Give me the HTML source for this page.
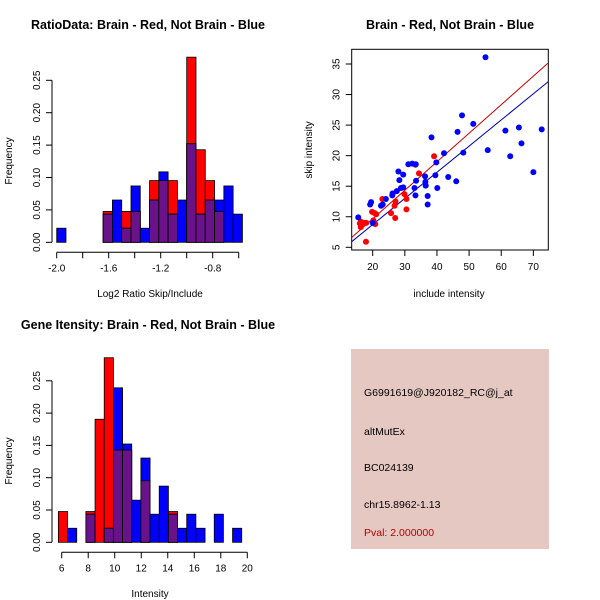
<!DOCTYPE html>
<html><head><meta charset="utf-8"><style>
body{margin:0;background:#fff}
svg{display:block;font-family:"Liberation Sans",sans-serif}
</style></head><body>
<svg id="s" width="600" height="600" viewBox="0 0 600 600">
<rect width="600" height="600" fill="#fff"/>
<text x="148" y="29" font-size="12.5" font-weight="bold" text-anchor="middle">RatioData: Brain - Red, Not Brain - Blue</text>
<text x="450" y="29" font-size="12.5" font-weight="bold" text-anchor="middle">Brain - Red, Not Brain - Blue</text>
<text x="148" y="329" font-size="12.5" font-weight="bold" text-anchor="middle">Gene Itensity: Brain - Red, Not Brain - Blue</text>
<text x="150" y="297" font-size="10" text-anchor="middle">Log2 Ratio Skip/Include</text>
<text x="150" y="597" font-size="10" text-anchor="middle">Intensity</text>
<text x="449" y="297" font-size="10" text-anchor="middle">include intensity</text>
<text transform="translate(12,161) rotate(-90)" font-size="10" text-anchor="middle">Frequency</text>
<text transform="translate(12,461) rotate(-90)" font-size="10" text-anchor="middle">Frequency</text>
<text transform="translate(312,150) rotate(-90)" font-size="10" text-anchor="middle">skip intensity</text>
<g>
<rect x="351" y="349" width="198" height="200" fill="#e6c8c3"/>
<text x="364" y="396" font-size="10.5">G6991619@J920182_RC@j_at</text>
<text x="364" y="435" font-size="10.5">altMutEx</text>
<text x="364" y="471" font-size="10.5">BC024139</text>
<text x="364" y="508" font-size="10.5">chr15.8962-1.13</text>
<text x="364" y="536" font-size="10.5" fill="#b00000">Pval: 2.000000</text>
</g>
</svg>
<script>
// Ratio histogram (counts per bin; blue n=46, red n=21)
const ratioRed=[0,0,0,0,0,1,0,1,1,0,2,2,2,0,6,3,2,1,0,0];
const ratioBlue=[1,0,0,0,0,2,3,1,4,1,3,5,2,3,7,2,3,3,4,2];
const ratioTicksX=[-2.0,-1.8,-1.6,-1.4,-1.2,-1.0,-0.8,-0.6];
const ratioLabelsX=["-2.0","","-1.6","","-1.2","","-0.8",""];
const freqTicks=[0,0.05,0.1,0.15,0.2,0.25];
const freqLabels=["0.00","0.05","0.10","0.15","0.20","0.25"];
// Gene intensity histogram
const geneRed=[1,0,0,1,4,6,3,3,0,2,0,0,1,0,0,0,0,0,0,0];
const geneBlue=[0,1,0,2,0,1,11,7,3,6,2,4,2,1,2,1,0,2,0,1];
const geneTicksX=[6,8,10,12,14,16,18,20];
// Scatter
const redX=[16,16.3,16.3,17.3,18,17.9,19.8,20.2,20.6,21.1,20.8,23,25.7,26.2,26.8,27,27.1,29.9,30.5,30.5,33.3,34.4,39.1];
const redY=[8.9,9.2,8.3,9.0,9.0,5.9,10.8,9.4,10.6,10.4,8.8,12.9,10.6,13.8,11.8,9.8,12.5,13.7,12.9,11.2,18.5,17.1,19.9];
const blueX=[15.5,19.2,19.5,20,22.6,23.1,24.1,26.1,26.2,27.5,28,28.3,28.8,29.5,29.5,31.1,32.3,33,33.3,33.4,33.5,36.3,36.4,36.5,37.1,37.1,38.3,39.5,39.8,40.1,42.2,43.5,46,46.4,47.8,48.2,51.3,55.1,55.8,61.3,62.8,65.5,66.3,70,72.6];
const blueY=[9.9,12.0,12.4,9.0,11.8,12.0,12.9,13.5,13.8,14.2,17.4,16.0,14.7,14.8,16.9,18.6,18.7,14.7,13.5,18.6,15.9,16.6,15.7,15.1,13.4,12.0,23.0,16.8,18.9,14.7,20.4,16.5,15.8,23.9,26.6,20.5,25.2,36.1,20.9,24.1,19.9,24.6,22,17.3,24.3];
const redFit=[0.32,0.467];
const blueFit=[0.16,0.428];
const scatTicksX=[20,30,40,50,60,70];
const scatTicksY=[5,10,15,20,25,30,35];

const NS="http://www.w3.org/2000/svg";
const svg=document.getElementById('s');
function mk(t,a,p){const e=document.createElementNS(NS,t);for(const k in a)e.setAttribute(k,a[k]);(p||svg).appendChild(e);return e;}

function hist(red,blue,nr,nb,x0,bw,xs,ys,prefix,xt,xl){
  const g=mk('g',{});
  
  
  for(let i=0;i<red.length;i++){
    const xa=xs(x0+i*bw),xb=xs(x0+(i+1)*bw);
    const fr=red[i]/nr,fb=blue[i]/nb;
    const parts=[[fr,'#ff0000','red'],[fb,'#0000ff','blue'],[Math.min(fr,fb),'#6a128a','overlap']];
    for(const [f,c,n] of parts){
      if(f<=0)continue;
      const r=mk('rect',{x:xa,y:ys(f),width:xb-xa,height:ys(0)-ys(f),fill:c,stroke:'#000','stroke-width':0.8},g);
      
      
    }
  }
  const ax=mk('g',{stroke:'#000','stroke-width':1,fill:'none'},g);
  mk('line',{x1:xs(xt[0]),x2:xs(xt[xt.length-1]),y1:ys(0)+10,y2:ys(0)+10},ax);
  xt.forEach((t,i)=>{
    mk('line',{x1:xs(t),x2:xs(t),y1:ys(0)+10,y2:ys(0)+16},ax);
    const s=xl?xl[i]:String(t);
    if(s){const tx=mk('text',{x:xs(t),y:ys(0)+29,'font-size':10,'text-anchor':'middle',fill:'#000',stroke:'none'},g);tx.textContent=s;
    
    }
  });
  const lx=52;
  mk('line',{x1:lx,x2:lx,y1:ys(0),y2:ys(0.25)},ax);
  freqTicks.forEach((t,i)=>{
    mk('line',{x1:lx-6,x2:lx,y1:ys(t),y2:ys(t)},ax);
    const tx=mk('text',{transform:`translate(${lx-12},${ys(t)}) rotate(-90)`,'font-size':10,'text-anchor':'middle',fill:'#000',stroke:'none'},g);
    tx.textContent=freqLabels[i];
    
    
  });
}
hist(ratioRed,ratioBlue,21,46,-2,1/14,v=>56.7+130*(v+2),v=>242.3-648*v,'ratio',ratioTicksX,ratioLabelsX);
hist(geneRed,geneBlue,21,46,5.75,0.6915,v=>61.7+13.257*(v-6),v=>542.3-646*v,'gene',geneTicksX,null);

// scatter
const sx=v=>372.7+3.213*(v-20), sy=v=>247.3-6.11*(v-5);
const sg=mk('g',{});


const box=mk('rect',{x:351.7,y:49.3,width:196.6,height:200.7,fill:'none',stroke:'#000'},sg);


scatTicksX.forEach(t=>{
  mk('line',{x1:sx(t),x2:sx(t),y1:250,y2:256,stroke:'#000'},sg);
  const tx=mk('text',{x:sx(t),y:270,'font-size':10,'text-anchor':'middle'},sg);tx.textContent=t;
  
  
});
scatTicksY.forEach(t=>{
  mk('line',{x1:345.7,x2:351.7,y1:sy(t),y2:sy(t),stroke:'#000'},sg);
  const tx=mk('text',{transform:`translate(${339.5},${sy(t)}) rotate(-90)`,'font-size':10,'text-anchor':'middle'},sg);tx.textContent=t;
  
  
});
const clip=mk('clipPath',{id:'cp'});mk('rect',{x:351.7,y:49.3,width:196.6,height:200.7},clip);
const xa=13.45,xb=74.6;
[[redFit,'#cc0000','red'],[blueFit,'#0000aa','blue']].forEach(([f,c,n])=>{
  const l=mk('line',{x1:sx(xa),y1:sy(f[0]+f[1]*xa),x2:sx(xb),y2:sy(f[0]+f[1]*xb),stroke:c,'stroke-width':1,'clip-path':'url(#cp)'},sg);
  
  
});
redX.forEach((x,i)=>{const c=mk('circle',{cx:sx(x),cy:sy(redY[i]),r:3,fill:'#ff0000'},sg);
  
  });
blueX.forEach((x,i)=>{const c=mk('circle',{cx:sx(x),cy:sy(blueY[i]),r:3,fill:'#0000ff'},sg);
  
  });
</script>
</body></html>
